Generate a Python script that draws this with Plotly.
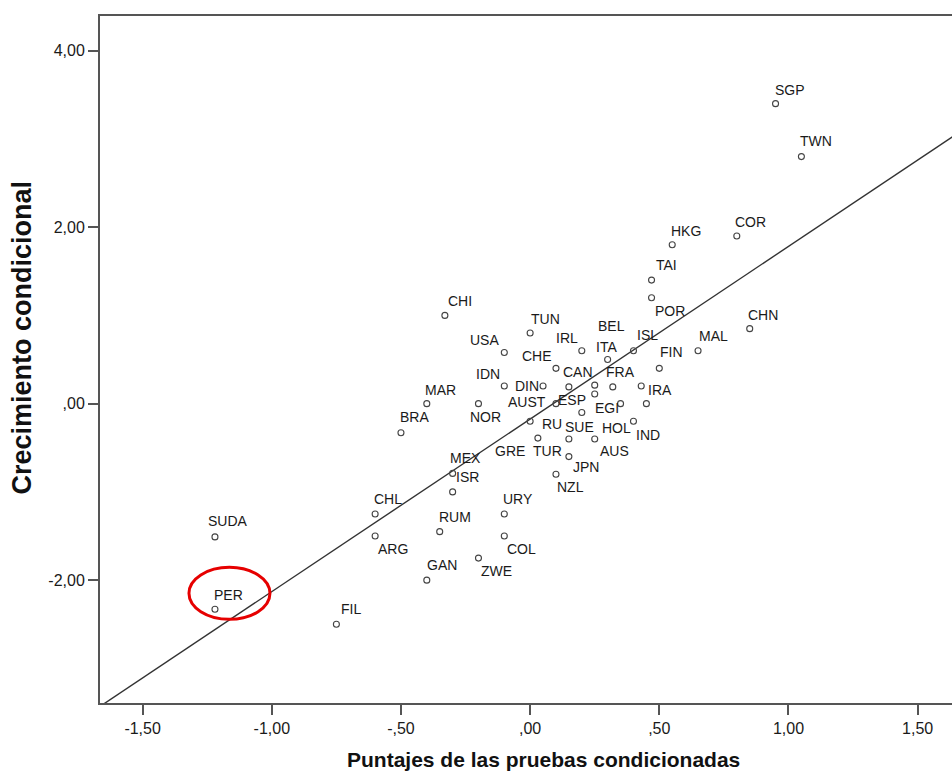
import plotly.graph_objects as go

# Country codes, conditional test scores (x) and conditional growth (y)
countries = ["SGP", "TWN", "HKG", "COR", "TAI", "POR", "CHN", "MAL", "CHI", "TUN",
             "USA", "IRL", "CHE", "ITA", "BEL", "ISL", "FIN", "IDN", "DIN", "CAN",
             "FRA", "IRA", "ESP", "EGI", "IND", "AUST", "NOR", "MAR", "BRA", "RU",
             "SUE", "HOL", "GRE", "TUR", "AUS", "JPN", "NZL", "MEX", "ISR", "URY",
             "CHL", "ARG", "RUM", "COL", "ZWE", "GAN", "FIL", "SUDA", "PER"]
test_scores = [0.95, 1.05, 0.55, 0.80, 0.47, 0.47, 0.85, 0.65, -0.33, 0.00,
               -0.10, 0.20, 0.10, 0.30, 0.25, 0.40, 0.50, -0.10, 0.05, 0.15,
               0.32, 0.43, 0.25, 0.35, 0.45, 0.10, -0.20, -0.40, -0.50, 0.00,
               0.20, 0.40, 0.03, 0.15, 0.25, 0.15, 0.10, -0.30, -0.30, -0.10,
               -0.60, -0.60, -0.35, -0.10, -0.20, -0.40, -0.75, -1.22, -1.22]
growth = [3.40, 2.80, 1.80, 1.90, 1.40, 1.20, 0.85, 0.60, 1.00, 0.80,
          0.58, 0.60, 0.40, 0.50, 0.21, 0.60, 0.40, 0.20, 0.20, 0.19,
          0.19, 0.20, 0.11, 0.00, 0.00, 0.00, 0.00, 0.00, -0.33, -0.20,
          -0.10, -0.20, -0.39, -0.40, -0.40, -0.60, -0.80, -0.79, -1.00, -1.25,
          -1.25, -1.50, -1.45, -1.50, -1.75, -2.00, -2.50, -1.51, -2.33]

# Fitted line: growth = intercept + slope * score
fit_intercept = -0.174
fit_slope = 1.956

x_tickvals = [-1.5, -1.0, -0.5, 0.0, 0.5, 1.0, 1.5]
x_ticktext = ["-1,50", "-1,00", "-,50", ",00", ",50", "1,00", "1,50"]
y_tickvals = [-2, 0, 2, 4]
y_ticktext = ["-2,00", ",00", "2,00", "4,00"]

highlighted = "PER"

# Label placement: pixel offset of the label centre from its point (right, down)
label_offset = {
    "SGP": (14, -14), "TWN": (15, -16), "HKG": (14, -14), "COR": (14, -14),
    "TAI": (15, -15), "POR": (18, 13), "CHN": (13, -14), "MAL": (15, -15),
    "CHI": (15, -14), "TUN": (15, -14), "USA": (-20, -12), "IRL": (-15, -13),
    "CHE": (-19, -12), "ITA": (-1, -13), "BEL": (17, -59), "ISL": (14, -16),
    "FIN": (12, -16), "IDN": (-16, -12), "DIN": (-16, 0), "CAN": (9, -15),
    "FRA": (8, -15), "IRA": (19, 4), "ESP": (-23, 6), "EGI": (-14, 4),
    "IND": (2, 31), "AUST": (-29, -2), "NOR": (7, 13), "MAR": (14, -14),
    "BRA": (14, -16), "RU": (22, 3), "SUE": (-2, 15), "HOL": (-17, 7),
    "GRE": (-28, 13), "TUR": (-21, 12), "AUS": (20, 12), "JPN": (17, 10),
    "NZL": (15, 13), "MEX": (13, -15), "ISR": (15, -15), "URY": (14, -15),
    "CHL": (13, -15), "ARG": (18, 13), "RUM": (15, -15), "COL": (17, 13),
    "ZWE": (18, 13), "GAN": (15, -15), "FIL": (15, -15), "SUDA": (13, -16),
    "PER": (14, -14),
}

x_range = [-1.665, 1.633]
y_range = [-3.392, 4.393]

label_font = dict(family="Liberation Sans, Arial", size=14, color="#1a1a1a")
tick_font = dict(family="Liberation Sans, Arial", size=16, color="#1a1a1a")
axis_color = "#555555"

fig = go.Figure()

# Fit line across the full horizontal extent (clipped to the plot area)
line_x = [x_range[0] - 0.1, x_range[1] + 0.1]
line_y = [fit_intercept + fit_slope * v for v in line_x]
fig.add_trace(go.Scatter(x=line_x, y=line_y, mode="lines",
                         line=dict(color="#333333", width=1.4),
                         hoverinfo="skip", showlegend=False))

fig.add_trace(go.Scatter(x=test_scores, y=growth, mode="markers", text=countries,
                         marker=dict(symbol="circle-open", size=6,
                                     color="#444444", line=dict(width=1.1)),
                         showlegend=False))

annotations = []
for name, xv, yv in zip(countries, test_scores, growth):
    dx, dy = label_offset[name]
    annotations.append(dict(x=xv, y=yv, xref="x", yref="y", text=name,
                            showarrow=False, xanchor="center", yanchor="middle",
                            xshift=dx, yshift=-dy, font=label_font))

annotations.append(dict(text="<b>Puntajes de las pruebas condicionadas</b>",
                        xref="paper", yref="paper", x=0.521, y=0,
                        xanchor="center", yanchor="middle", yshift=-56,
                        showarrow=False,
                        font=dict(family="Liberation Sans, Arial", size=21,
                                  color="#111111")))
annotations.append(dict(text="<b>Crecimiento condicional</b>",
                        xref="paper", yref="paper", x=0, y=0.532,
                        xanchor="center", yanchor="middle", xshift=-78,
                        textangle=-90, showarrow=False,
                        font=dict(family="Liberation Sans, Arial", size=27,
                                  color="#111111")))

# Highlight ellipse around the marked country
hx = test_scores[countries.index(highlighted)]
hy = growth[countries.index(highlighted)]
fig.add_shape(type="circle", xref="x", yref="y",
              xsizemode="pixel", ysizemode="pixel",
              xanchor=hx, yanchor=hy,
              x0=-26, x1=55, y0=-10, y1=42,
              line=dict(color="#e60000", width=3))

fig.update_layout(
    width=952, height=772,
    margin=dict(l=100, r=0, t=16, b=69),
    plot_bgcolor="white", paper_bgcolor="white",
    annotations=annotations,
    xaxis=dict(range=x_range, tickvals=x_tickvals, ticktext=x_ticktext,
               showgrid=False, zeroline=False, showline=True,
               linecolor=axis_color, linewidth=2, mirror=True,
               ticks="outside", ticklen=10, tickwidth=2, tickcolor=axis_color,
               tickfont=tick_font),
    yaxis=dict(range=y_range, tickvals=y_tickvals, ticktext=y_ticktext,
               showgrid=False, zeroline=False, showline=True,
               linecolor=axis_color, linewidth=2, mirror=False,
               ticks="outside", ticklen=10, tickwidth=2, tickcolor=axis_color,
               tickfont=tick_font),
)

fig.write_html("out.html")
